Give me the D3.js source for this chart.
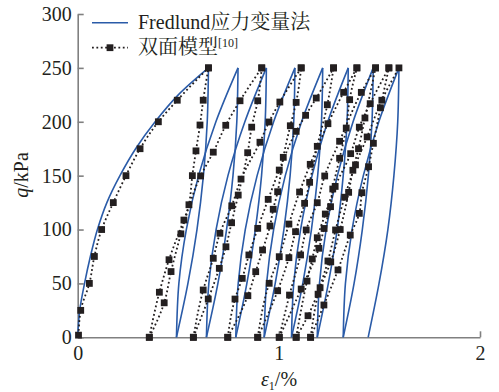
<!DOCTYPE html>
<html>
<head>
<meta charset="utf-8">
<script src="https://cdn.jsdelivr.net/npm/d3@7"></script>
<style>
  html, body { margin: 0; padding: 0; background: #fff; }
  svg { display: block; }
  text { font-family: "Liberation Serif", "DejaVu Serif", "Noto Serif", "Noto Serif CJK SC", "Noto Sans CJK SC", serif; }
</style>
</head>
<body>
<svg id="chart" width="499" height="392"></svg>
<script>
// ---- axis ticks ----
const xTicks = [0, 1, 2];
const yTicks = [0, 50, 100, 150, 200, 250, 300];

// ---- Fredlund stress-state-variable curve (ε1 in %, q in kPa) ----
const fredInitQ = [0, 25, 50, 75, 100, 125, 150, 175, 200, 225, 250];
const fredInitX = [0, 0.010, 0.034, 0.063, 0.098, 0.145, 0.210, 0.288, 0.385, 0.500, 0.650];

// reload / unload branches, ε1 at each q level below
const fredQ = [0, 50, 100, 150, 200, 250];
const fredReloadX = [
  [0.491, 0.503, 0.540, 0.601, 0.687, 0.797],
  [0.640, 0.652, 0.688, 0.747, 0.831, 0.938],
  [0.786, 0.798, 0.833, 0.892, 0.974, 1.080],
  [0.927, 0.939, 0.974, 1.032, 1.113, 1.218],
  [1.063, 1.074, 1.108, 1.165, 1.243, 1.345],
  [1.191, 1.202, 1.235, 1.291, 1.369, 1.469],
  [1.320, 1.331, 1.364, 1.420, 1.497, 1.597]
];
const fredUnloadX = [
  [0.491, 0.548, 0.593, 0.625, 0.644, 0.650],
  [0.640, 0.697, 0.740, 0.772, 0.791, 0.797],
  [0.786, 0.841, 0.883, 0.914, 0.932, 0.938],
  [0.927, 0.982, 1.025, 1.056, 1.074, 1.080],
  [1.063, 1.119, 1.162, 1.193, 1.212, 1.218],
  [1.191, 1.246, 1.290, 1.320, 1.339, 1.345],
  [1.320, 1.374, 1.415, 1.445, 1.463, 1.469],
  [1.444, 1.498, 1.542, 1.572, 1.591, 1.597]
];

// ---- double-surface model [10]: computed points per branch ----
const dsInitQ = [2, 25, 50, 75, 100, 125, 150, 175, 200, 220, 250];
const dsInitX = [0.004, 0.015, 0.058, 0.083, 0.119, 0.177, 0.240, 0.310, 0.401, 0.495, 0.650];

// unloading branches (peak -> base)
const dsUnloadQ = [
  [250, 220, 197, 173, 150, 123, 96, 61, 32, 0],
  [250, 219.5, 195, 171.3, 132, 106.3, 84, 64, 35.5, 0],
  [250, 218, 196.3, 167, 135.1, 118.8, 103.3, 81, 60.9, 38.6, 0],
  [250, 215.8, 177.2, 143.8, 124.3, 98, 73.9, 43.2, 0],
  [250, 220.5, 194.2, 166.1, 137.6, 121.2, 101, 82.6, 44.8, 0],
  [250, 203.5, 175, 155, 134.5, 100, 70, 46, 20, 0],
  [250, 213, 180, 158.3, 134.2, 115, 94.9, 62.5, 30, 0]
];
const dsUnloadX = [
  [0.650, 0.624, 0.608, 0.588, 0.570, 0.553, 0.513, 0.464, 0.430, 0.356],
  [0.915, 0.895, 0.865, 0.845, 0.798, 0.765, 0.737, 0.704, 0.649, 0.575],
  [1.111, 1.086, 1.057, 1.022, 0.994, 0.972, 0.956, 0.919, 0.885, 0.846, 0.746],
  [1.272, 1.241, 1.191, 1.153, 1.128, 1.083, 1.050, 0.994, 0.895],
  [1.388, 1.352, 1.335, 1.302, 1.268, 1.257, 1.225, 1.199, 1.111, 1.002],
  [1.481, 1.428, 1.396, 1.368, 1.347, 1.305, 1.258, 1.205, 1.145, 1.086],
  [1.547, 1.505, 1.470, 1.446, 1.413, 1.400, 1.355, 1.294, 1.224, 1.158]
];

// reloading branches (base -> next peak)
const dsReloadQ = [
  [0, 41.8, 72, 108.8, 149.7, 171.8, 196.7, 219.5, 250],
  [0, 43.9, 73.3, 96.5, 122, 146.8, 181, 199.8, 218.3, 250],
  [0, 35.5, 54.7, 76.4, 101.1, 128, 155.2, 191.1, 206, 222, 250],
  [0, 50.1, 74.8, 105.1, 134.8, 160.5, 198.2, 227.3, 250],
  [0, 39.2, 76.4, 99.6, 124.9, 149.7, 181.9, 227.3, 250],
  [0, 52.2, 72.7, 92.4, 114.4, 140, 170.4, 195, 216.8, 250],
  [0, 40, 70.8, 99.6, 130, 160, 185.9, 220, 250]
];
const dsReloadX = [
  [0.356, 0.406, 0.454, 0.528, 0.611, 0.674, 0.736, 0.807, 0.915],
  [0.575, 0.624, 0.674, 0.707, 0.766, 0.812, 0.906, 0.951, 1.005, 1.111],
  [0.746, 0.782, 0.818, 0.851, 0.895, 0.947, 1.002, 1.086, 1.133, 1.186, 1.272],
  [0.895, 0.952, 1.002, 1.050, 1.103, 1.156, 1.244, 1.322, 1.388],
  [1.002, 1.053, 1.108, 1.136, 1.191, 1.228, 1.302, 1.410, 1.481],
  [1.086, 1.140, 1.166, 1.191, 1.231, 1.280, 1.357, 1.400, 1.454, 1.547],
  [1.158, 1.195, 1.244, 1.282, 1.327, 1.381, 1.439, 1.512, 1.597]
];

// ---- layout ----
const svg = d3.select("#chart");
const plot = { left: 77.7, right: 480, top: 14, bottom: 337.3 };
const x = d3.scaleLinear().domain([0, 2]).range([plot.left, plot.right]);
const y = d3.scaleLinear().domain([0, 300]).range([plot.bottom, plot.top]);

const blue = "#2a5ba8";
const ink = "#231f20";
const axisGrey = "#808080";
const serif = "'Liberation Serif', 'DejaVu Serif', 'Noto Serif', serif";
const fontPx = "20px";

const pair = (xs, qs) => xs.map((v, i) => [v, qs[i]]);

const fredBranches = [pair(fredInitX, fredInitQ)]
  .concat(fredReloadX.map(xs => pair(xs, fredQ)))
  .concat(fredUnloadX.map(xs => pair(xs, fredQ)));

const dsBranches = [pair(dsInitX, dsInitQ)]
  .concat(dsUnloadX.map((xs, i) => pair(xs, dsUnloadQ[i]).reverse()))
  .concat(dsReloadX.map((xs, i) => pair(xs, dsReloadQ[i])));

const line = d3.line()
  .x(d => x(d[0]))
  .y(d => y(d[1]))
  .curve(d3.curveMonotoneY);

// ---- axes ----
const yAxis = d3.axisLeft(y).tickValues(yTicks).tickSize(-6).tickSizeOuter(0).tickPadding(6);
const xAxis = d3.axisBottom(x).tickValues(xTicks).tickFormat(d3.format("d"))
  .tickSize(-6).tickSizeOuter(0).tickPadding(9);

const gy = svg.append("g").attr("transform", `translate(${plot.left},0)`).call(yAxis);
const gx = svg.append("g").attr("transform", `translate(0,${plot.bottom})`).call(xAxis);

[gx, gy].forEach(g => {
  g.attr("font-family", null);
  g.select(".domain").attr("stroke", axisGrey).attr("stroke-width", 1.6);
  g.selectAll(".tick line").attr("stroke", axisGrey).attr("stroke-width", 1.6);
  g.selectAll(".tick text")
    .attr("fill", ink)
    .style("font-family", serif)
    .style("font-size", fontPx);
});

// ---- Fredlund curve ----
svg.append("g").selectAll("path")
  .data(fredBranches)
  .join("path")
  .attr("d", line)
  .attr("fill", "none")
  .attr("stroke", blue)
  .attr("stroke-width", 1.6);

// ---- double-surface model: dotted line + square markers ----
svg.append("g").selectAll("path")
  .data(dsBranches)
  .join("path")
  .attr("d", line)
  .attr("fill", "none")
  .attr("stroke", ink)
  .attr("stroke-width", 1.8)
  .attr("stroke-dasharray", "1.8 2.6");

const ms = 6.8;
svg.append("g").selectAll("rect")
  .data(dsBranches.flat())
  .join("rect")
  .attr("x", d => x(d[0]) - ms / 2)
  .attr("y", d => y(d[1]) - ms / 2)
  .attr("width", ms)
  .attr("height", ms)
  .attr("fill", ink);

// ---- axis titles ----
const xt = svg.append("text")
  .attr("x", 279).attr("y", 386)
  .attr("text-anchor", "middle")
  .style("font-size", fontPx)
  .attr("fill", ink);
xt.append("tspan").attr("font-style", "italic").text("ε");
xt.append("tspan").attr("font-size", "12px").attr("dy", 4).text("1");
xt.append("tspan").attr("dy", -4).text("/%");

const yt = svg.append("text")
  .attr("transform", "translate(28,175) rotate(-90)")
  .attr("text-anchor", "middle")
  .style("font-size", fontPx)
  .attr("fill", ink);
yt.append("tspan").attr("font-style", "italic").text("q");
yt.append("tspan").text("/kPa");

// ---- legend ----
const lg = svg.append("g");
lg.append("line")
  .attr("x1", 92).attr("x2", 128).attr("y1", 22.7).attr("y2", 22.7)
  .attr("stroke", blue).attr("stroke-width", 1.6);
lg.append("text")
  .attr("x", 138).attr("y", 29)
  .style("font-size", fontPx)
  .attr("fill", ink)
  .text("Fredlund应力变量法");

lg.append("line")
  .attr("x1", 92).attr("x2", 128).attr("y1", 47.7).attr("y2", 47.7)
  .attr("stroke", ink).attr("stroke-width", 1.8)
  .attr("stroke-dasharray", "1.8 2.6");
lg.append("rect")
  .attr("x", 110 - ms / 2).attr("y", 47.7 - ms / 2)
  .attr("width", ms).attr("height", ms)
  .attr("fill", ink);
const l2 = lg.append("text")
  .attr("x", 138).attr("y", 54)
  .style("font-size", fontPx)
  .attr("fill", ink);
l2.append("tspan").text("双面模型");
l2.append("tspan").attr("font-size", "12px").attr("dy", -7).text("[10]");
</script>
</body>
</html>
